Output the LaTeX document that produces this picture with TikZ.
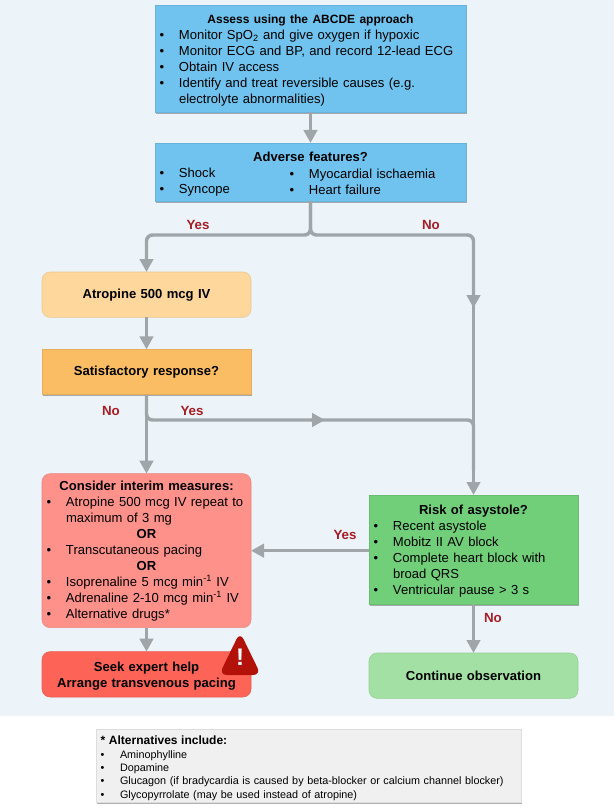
\documentclass[tikz,border=0pt]{standalone}
\usepackage{fontspec}
\setmainfont{Liberation Sans}
\usetikzlibrary{arrows.meta, positioning, shadows, calc}
\definecolor{pageBlue}{RGB}{236, 244, 249}
\definecolor{assessBlue}{RGB}{112, 195, 238}
\definecolor{atropineOrange}{RGB}{253, 215, 155}
\definecolor{responseOrange}{RGB}{250, 189, 100}
\definecolor{measuresRed}{RGB}{254, 145, 138}
\definecolor{expertRed}{RGB}{253, 100, 87}
\definecolor{riskGreen}{RGB}{112, 207, 120}
\definecolor{observeGreen}{RGB}{163, 224, 163}
\definecolor{notesGrey}{RGB}{240, 240, 240}
\definecolor{flowGrey}{RGB}{160, 165, 169}
\definecolor{labelRed}{RGB}{168, 28, 36}
\definecolor{warnRed}{RGB}{178, 18, 10}
\newlength{\bulind}
\setlength{\bulind}{14.5pt}
\newcommand{\boxtitle}[1]{\noindent\makebox[\linewidth][c]{\bfseries #1}\par}
\newcommand{\bul}[1]{\hangindent=\bulind\hangafter=1\noindent\makebox[\bulind][l]{\textbullet}#1\par}
\newcommand{\toppad}[1]{\rule{0pt}{#1}}
\hyphenpenalty=10000
\exhyphenpenalty=10000

\begin{document}
\begin{tikzpicture}[
    x=0.75pt,
    y=-0.75pt,
    body/.style={
        rectangle,
        anchor=north,
        draw=#1!92!black,
        fill=#1,
        line width=0.4pt,
        outer sep=0pt,
        inner xsep=3.5pt,
        inner ysep=0pt,
        align=left,
        font=\fontsize{9.8}{12}\selectfont
    },
    square/.style={body=#1, drop shadow={shadow xshift=0.4pt, shadow yshift=-1.2pt, opacity=0.3, fill=black}},
    round/.style={body=#1, rounded corners=6pt},
    single/.style={text width=149.75pt, minimum height=34pt, align=center, font=\fontsize{9.8}{12}\selectfont\bfseries},
    flow/.style={draw=flowGrey, line width=2.6pt},
    arrow/.style={flow, -{Triangle[length=9.75pt, width=10pt]}},
    elbow/.style={rounded corners=4.5pt},
    decision/.style={text=labelRed, font=\fontsize{10}{11}\selectfont\bfseries, inner sep=0pt}
]
    % Page
    \fill[pageBlue] (0,0) rectangle (614,716);
    \useasboundingbox (0,0) rectangle (614,809);

    % Top column
    \node[square=assessBlue, text width=226.25pt, minimum height=80.25pt] (assess) at (310.5,5) {%
        \boxtitle{\toppad{9pt}\fontsize{9}{12}\selectfont Assess using the ABCDE approach}
        \bul{Monitor SpO\textsubscript{2} and give oxygen if hypoxic}
        \bul{Monitor ECG and BP, and record 12-lead ECG}
        \bul{Obtain IV access}
        \bul{Identify and treat reversible causes (e.g. electrolyte abnormalities)}};
    \node[square=assessBlue, text width=226.25pt, minimum height=43.5pt, below=23.25pt of assess] (adverse) {%
        \boxtitle{\toppad{10.8pt}Adverse features?}
        \noindent\begin{minipage}[t]{97.5pt}
            \bul{Shock}
            \bul{Syncope}
        \end{minipage}%
        \raisebox{-0.8pt}{\begin{minipage}[t]{128pt}
            \bul{Myocardial ischaemia}
            \bul{Heart failure}
        \end{minipage}}};

    % Left column
    \node[round=atropineOrange, single] (atropine) at (146.5,272) {Atropine 500 mcg IV};
    \node[square=responseOrange, single, below=24pt of atropine] (response) {Satisfactory response?};
    \node[round=measuresRed, text width=149.75pt, minimum height=115.5pt, below=59.25pt of response] (measures) {%
        \boxtitle{Consider interim measures:}
        \bul{Atropine 500 mcg IV repeat to maximum of 3 mg}
        \boxtitle{OR}
        \bul{Transcutaneous pacing}
        \boxtitle{OR}
        \bul{Isoprenaline 5 mcg min\textsuperscript{-1} IV}
        \bul{Adrenaline 2-10 mcg min\textsuperscript{-1} IV}
        \bul{Alternative drugs*}};
    \node[round=expertRed, single, below=18pt of measures] (expert) {\toppad{9.2pt}Seek expert help\\Arrange transvenous pacing};

    % Right column
    \node[square=riskGreen, text width=149.75pt, minimum height=81.75pt] (risk) at (473.5,495) {%
        \boxtitle{\toppad{10pt}Risk of asystole?}
        \bul{Recent asystole}
        \bul{Mobitz II AV block}
        \bul{Complete heart block with broad QRS}
        \bul{Ventricular pause > 3 s}};
    \node[round=observeGreen, single, below=36.75pt of risk] (observe) {Continue observation};

    % Footnote
    \node[square=notesGrey, text width=311.75pt, minimum height=55pt, font=\fontsize{8.1}{10}\selectfont] (notes) at (308.5,729) {%
        {\toppad{10.5pt}\fontsize{9}{11.5}\selectfont\bfseries * Alternatives include:\par}
        \bul{Aminophylline}
        \bul{Dopamine}
        \bul{Glucagon (if bradycardia is caused by beta-blocker or calcium channel blocker)}
        \bul{Glycopyrrolate (may be used instead of atropine)}};

    % Warning sign
    \fill[warnRed, rounded corners=6pt] (240,632) -- (261,675) -- (219,675) -- cycle;
    \node[text=white, font=\fontsize{18}{18}\selectfont\bfseries, inner sep=0pt] (warning) at (240,657) {!};

    % Branch points
    \coordinate[below=25.5pt of adverse] (adverseSplit);
    \coordinate (noTip) at (risk.north |- 0,308);
    \coordinate (noBack) at (risk.north |- 0,295);
    \coordinate (yesTip) at (325,420);
    \coordinate (yesBack) at (311,420);
    \coordinate (yesJoin) at (risk.north |- 0,470);

    % Arrows
    \draw[arrow] (assess) -- (adverse);
    \draw[arrow, elbow] (adverse.south) -- (adverseSplit) -| (atropine.north);
    \draw[arrow, elbow] (adverse.south) -- (adverseSplit) -| (noTip);
    \draw[arrow] (noBack) -- (risk.north);
    \draw[arrow] (atropine) -- (response);
    \draw[arrow] (response) -- (measures);
    \draw[flow, elbow] (yesBack) -| (yesJoin);
    \draw[arrow, elbow] (response.south) |- (yesTip);
    \draw[arrow] (risk.west |- measures.east) -- (measures.east);
    \draw[arrow] (risk) -- (observe);
    \draw[arrow] (measures) -- (expert);

    % Labels
    \node[decision] (adverseYes) at (198,225) {Yes};
    \node[decision] (adverseNo) at (431,225) {No};
    \node[decision] (responseNo) at (111,411) {No};
    \node[decision] (responseYes) at (192,411) {Yes};
    \node[decision] (riskYes) at (345,535) {Yes};
    \node[decision] (riskNo) at (493,618) {No};

\end{tikzpicture}
\end{document}
